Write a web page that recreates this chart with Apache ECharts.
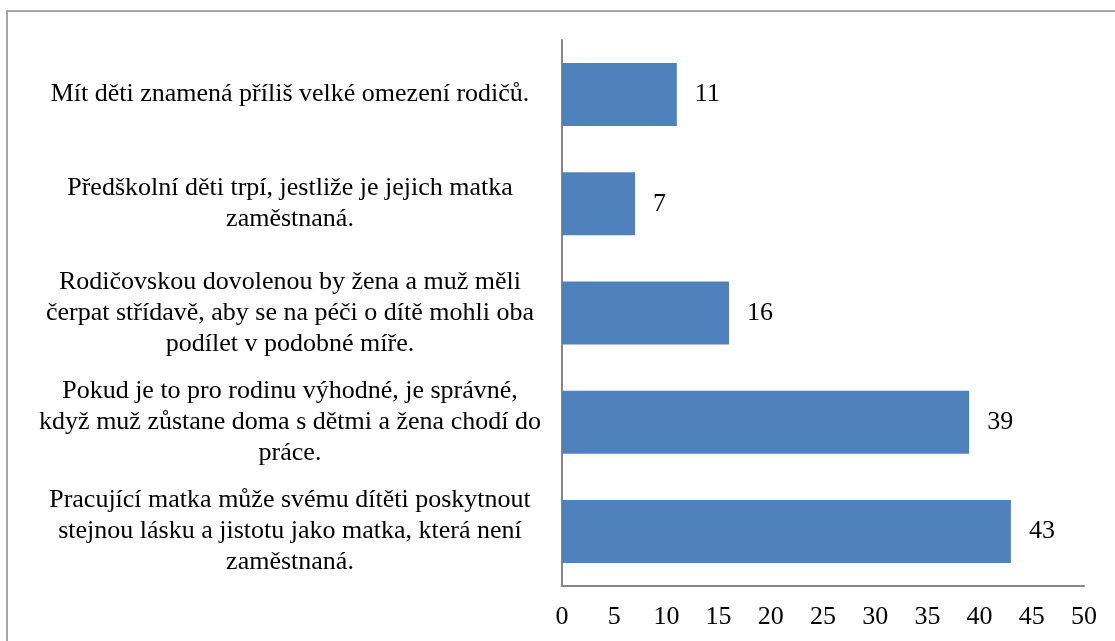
<!DOCTYPE html>
<html>
<head>
<meta charset="utf-8">
<script src="https://cdn.jsdelivr.net/npm/echarts@6/dist/echarts.min.js"></script>
<style>
html,body{margin:0;padding:0;background:#fff;}
#c{width:1115px;height:641px;}
</style>
</head>
<body>
<div id="c"></div>
<script>
// Categories listed bottom to top
const categories = [
  "Pracující matka může svému dítěti poskytnout\nstejnou lásku a jistotu jako matka, která není\nzaměstnaná.",
  "Pokud je to pro rodinu výhodné, je správné,\nkdyž muž zůstane doma s dětmi a žena chodí do\npráce.",
  "Rodičovskou dovolenou by žena a muž měli\nčerpat střídavě, aby se na péči o dítě mohli oba\npodílet v podobné míře.",
  "Předškolní děti trpí, jestliže je jejich matka\nzaměstnaná.",
  "Mít děti znamená příliš velké omezení rodičů."
];
const values = [43, 39, 16, 7, 11];
const xTicks = [0, 5, 10, 15, 20, 25, 30, 35, 40, 45, 50];

const chart = echarts.init(document.getElementById('c'));
chart.setOption({
  animation: false,
  backgroundColor: '#fff',
  graphic: [{
    type: 'rect',
    shape: {x: 7, y: 11, width: 1200, height: 700},
    style: {fill: 'none', stroke: '#a6a6a6', lineWidth: 2},
    silent: true
  }],
  grid: {left: 562, top: 40, right: 31, bottom: 55, containLabel: false},
  xAxis: {
    type: 'value',
    min: xTicks[0],
    max: xTicks[xTicks.length - 1],
    interval: 5,
    axisLine: {show: true, lineStyle: {color: '#868686', width: 2}},
    axisTick: {show: false},
    splitLine: {show: false},
    axisLabel: {
      color: '#000', fontFamily: 'Liberation Serif', fontSize: 26, margin: 18
    }
  },
  yAxis: {
    type: 'category',
    data: categories,
    axisLine: {show: true, lineStyle: {color: '#868686', width: 2}},
    axisTick: {show: false},
    axisLabel: {
      color: '#000', fontFamily: 'Liberation Serif', fontSize: 26,
      lineHeight: 31, align: 'center', margin: 272
    }
  },
  series: [{
    type: 'bar',
    data: values,
    barWidth: 63,
    itemStyle: {color: '#4F81BD'},
    label: {
      show: true, position: 'right', distance: 18,
      color: '#000', fontFamily: 'Liberation Serif', fontSize: 26
    }
  }]
});
</script>
</body>
</html>
